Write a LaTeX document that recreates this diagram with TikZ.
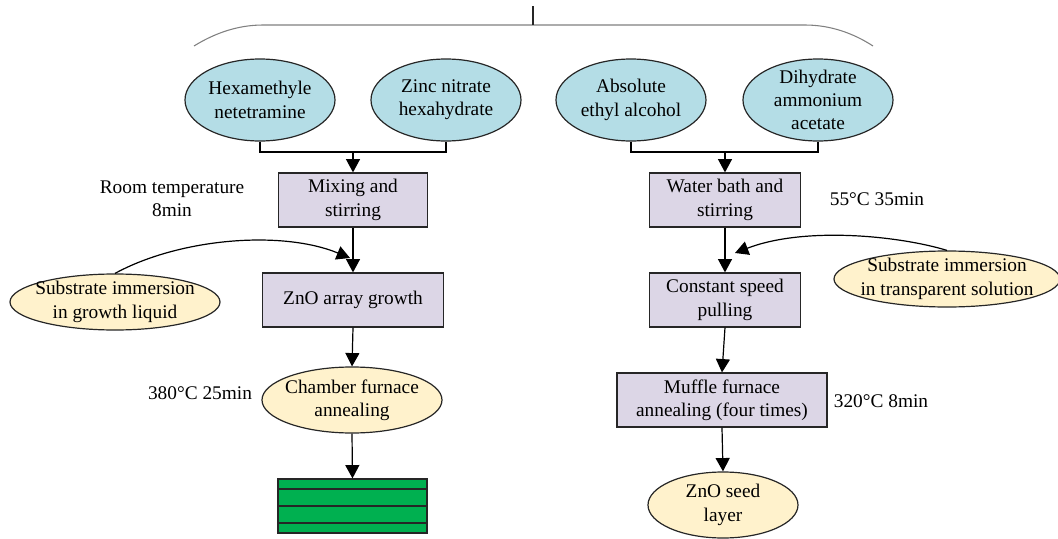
\documentclass[tikz,border=0pt]{standalone}
\usepackage{fontspec}
\setmainfont{Liberation Serif}
\usetikzlibrary{arrows.meta,shapes.geometric}
\definecolor{blueFill}{HTML}{B4DDE6}
\definecolor{yelFill}{HTML}{FFF2CC}
\definecolor{boxFill}{HTML}{DCD6E6}
\definecolor{greenFill}{HTML}{00B050}
\begin{document}
\begin{tikzpicture}[x=0.75pt,y=-0.75pt,
  every node/.style={font=\fontsize{14.5}{17.5}\selectfont, align=center, inner sep=0pt},
  blueell/.style={ellipse, draw=black!85, line width=0.9pt, fill=blueFill, minimum width=112.5pt, minimum height=61.5pt},
  yelell/.style={ellipse, draw=black!85, line width=0.9pt, fill=yelFill},
  procbox/.style={rectangle, draw=black!85, line width=0.9pt, fill=boxFill, minimum height=40.5pt},
  conn/.style={line width=0.9pt, black},
  arr/.style={conn, -{Triangle[length=10pt,width=10.5pt]}},
  brace/.style={gray, line width=0.8pt}
]
\useasboundingbox (0,0) rectangle (1058,539);

% top brace
\coordinate (b1) at (194,46);
\coordinate (b2) at (263,25);
\coordinate (b3) at (805,25);
\coordinate (b4) at (873,46);
\coordinate (t0) at (533,6);
\coordinate (t1) at (533,25);
\draw[brace] (b1) .. controls (215,33) and (238,25) .. (b2) -- (b3) .. controls (830,25) and (853,33) .. (b4);
\draw[line width=0.9pt, black!85] (t0) -- (t1);

% raw materials
\node[blueell] (hexa) at (260,100) {};
\node (hexaT) at (hexa) {Hexamethyle\\netetramine};
\node[blueell] (zinc) at (446,100) {};
\node (zincT) at (zinc) {Zinc nitrate\\hexahydrate};
\node[blueell] (abs) at (631,100) {};
\node (absT) at (abs) {Absolute\\ethyl alcohol};
\node[blueell] (dih) at (818,100) {};
\node (dihT) at (dih) {Dihydrate\\ammonium\\acetate};

% process boxes
\node[procbox, minimum width=111.75pt] (mix) at (353,200) {Mixing and\\stirring};
\node[procbox, minimum width=135.75pt] (zno) at (353,300) {ZnO array growth};
\node[procbox, minimum width=113.25pt] (water) at (725,200) {Water bath and\\stirring};
\node[procbox, minimum width=113.25pt] (const) at (725,300) {Constant speed\\pulling};
\node[procbox, minimum width=157.5pt] (muffle) at (722,400) {Muffle furnace\\annealing (four times)};

% yellow ellipses (fixed size, text may touch the outline)
\node[yelell, minimum width=157.5pt, minimum height=42pt] (subL) at (115,302) {};
\node (subLT) at (115,302) {Substrate immersion\\in growth liquid};
\node[yelell, minimum width=169.5pt, minimum height=42pt] (subR) at (947,279) {};
\node (subRT) at (947,279) {Substrate immersion\\in transparent solution};
\node[yelell, minimum width=135pt, minimum height=49.5pt] (chamber) at (352,400) {};
\node (chamberT) at (chamber) {Chamber furnace\\annealing};
\node[yelell, minimum width=112.5pt, minimum height=49.5pt] (seed) at (723,505) {};
\node (seedT) at (seed) {ZnO seed\\layer};

% green layered result
\node[rectangle, draw=black!85, line width=0.9pt, fill=greenFill, minimum width=111.75pt, minimum height=40.5pt] (green) at (352.5,506) {};
\draw[line width=0.9pt, black!85] (green.west |- 0,489) -- (green.east |- 0,489);
\draw[line width=0.9pt, black!85] (green.west |- 0,506) -- (green.east |- 0,506);
\draw[line width=0.9pt, black!85] (green.west |- 0,523) -- (green.east |- 0,523);

% condition labels
\node (room) at (172,199) {Room temperature\\8min};
\node (t380) at (200,393) {380°C 25min};
\node (t55) at (877,199) {55°C 35min};
\node (t320) at (881,401) {320°C 8min};

% junctions
\coordinate (jL) at (353,152);
\coordinate (jR) at (725,152);
\draw[conn] (hexa.south) |- (jL) -| (zinc.south);
\draw[arr] (jL) -- (mix.north);
\draw[conn] (abs.south) |- (jR) -| (dih.south);
\draw[arr] (jR) -- (water.north);

% left column
\draw[arr] (mix.south) -- (zno.north);
\coordinate (tipL) at (350,258);
\draw[arr] (subL.north) .. controls (180,238) and (282,230) .. (tipL);
\draw[arr] (zno.south) -- (chamber.north);
\draw[arr] (chamber.south) -- (green.north);

% right column
\draw[arr] (water.south) -- (const.north);
\coordinate (tipR) at (735,253);
\draw[arr] (subR.north) .. controls (900,236) and (805,226) .. (tipR);
\draw[arr] (const.south) -- (muffle.north);
\draw[arr] (muffle.south) -- (seed.north);
\end{tikzpicture}
\end{document}
